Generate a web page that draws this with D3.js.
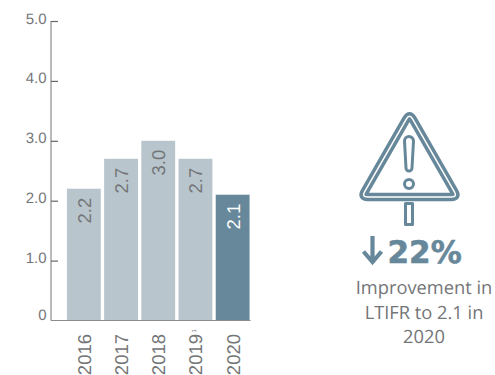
<!DOCTYPE html>
<html><head><meta charset="utf-8">
<script src="https://cdn.jsdelivr.net/npm/d3@7"></script>
<style>html,body{margin:0;padding:0;background:#fff}svg{display:block}text{text-rendering:geometricPrecision}</style>
</head><body><svg width="495" height="375" font-family="'Liberation Sans',Arial,sans-serif"></svg>
<script>
const years = ["2016", "2017", "2018", "2019", "2020"];
const yearNotes = ["", "", "", "1", ""];
const ltifr = [2.2, 2.7, 3.0, 2.7, 2.1];
const yTicks = [0, 1, 2, 3, 4, 5];
const captionLines = ["Improvement in", "LTIFR to 2.1 in", "2020"];
const changeLabel = "22%";

const pale = "#b8c5cd", deep = "#67889a", grey = "#747577", axisGrey = "#8c8c8c";
const svg = d3.select("svg");

const y = d3.scaleLinear().domain([0, 5]).range([320.5, 21]);
const x = d3.scaleBand().domain(years).range([64.7, 251.8]).paddingInner(0.09).paddingOuter(0.06);

// Value axis: ticks point right, towards the bars
const yAxis = svg.append("g").attr("transform", "translate(51,0)")
  .call(d3.axisRight(y).tickValues(yTicks).tickSize(7).tickFormat(() => ""));
yAxis.select(".domain").attr("stroke", axisGrey).attr("stroke-width", 1.2).attr("d", "M0,21V320.5");
yAxis.selectAll(".tick line").attr("stroke", "#666").attr("stroke-width", 1.2);
yAxis.selectAll(".tick").filter(d => d === 0).select("line").remove();

svg.append("g").selectAll("text").data(yTicks).join("text")
  .attr("x", 46.5).attr("y", d => d === 0 ? y(d) - 0.5 : y(d) + 2.5).attr("text-anchor", "end")
  .attr("font-size", 15).attr("fill", grey)
  .text(d => d === 0 ? "0" : d.toFixed(1));

// Bars
svg.append("g").selectAll("rect").data(years).join("rect")
  .attr("x", d => x(d)).attr("width", x.bandwidth())
  .attr("y", (d, i) => y(ltifr[i])).attr("height", (d, i) => y(0) - y(ltifr[i]))
  .attr("fill", (d, i) => i === years.length - 1 ? deep : pale);

// Baseline drawn over the foot of the bars
svg.append("line").attr("x1", 51).attr("x2", 250.5).attr("y1", y(0)).attr("y2", y(0))
  .attr("stroke", axisGrey).attr("stroke-width", 1.2);

// Values rotated inside the top of each bar
svg.append("g").selectAll("text").data(years).join("text")
  .attr("transform", (d, i) => `translate(${x(d) + x.bandwidth() / 2 + 7},${y(ltifr[i]) + 9}) rotate(-90)`)
  .attr("text-anchor", "end").attr("font-size", 18.5)
  .attr("fill", (d, i) => i === years.length - 1 ? "#ffffff" : grey)
  .text((d, i) => ltifr[i].toFixed(1));

// Rotated year labels under the baseline, with an optional note marker
const yearLabels = svg.append("g").selectAll("text").data(years).join("text")
  .attr("transform", d => `translate(${x(d) + x.bandwidth() / 2 + 7},334) rotate(-90)`)
  .attr("text-anchor", "end").attr("font-size", 18.5).attr("fill", grey)
  .text(d => d);
yearLabels.filter((d, i) => yearNotes[i]).each(function(d) {
  const note = yearNotes[years.indexOf(d)];
  svg.append("text")
    .attr("transform", `translate(${x(d) + x.bandwidth() / 2 + 0.5},332.5) rotate(-90)`)
    .attr("font-size", 6).attr("fill", grey).text(note);
});

// Warning sign: rounded triangle as a heavy outline split by a thin white line
const triangle = "M406.45,118.8L364.55,191.8Q361.5,197 367.5,197H451.5Q457.5,197 454.45,191.8L412.55,118.8Q409.5,113.6 406.45,118.8Z";
const sign = svg.append("g").attr("fill", "none").attr("stroke-linejoin", "round").attr("stroke-linecap", "round");
sign.append("path").attr("d", triangle).attr("stroke", deep).attr("stroke-width", 8.5);
sign.append("path").attr("d", triangle).attr("stroke", "#fff").attr("stroke-width", 1.5);
sign.append("path").attr("d", "M404.5,141a4.5,4.5 0 0 1 9,0L412,168a3,3 0 0 1 -6,0Z").attr("stroke", deep).attr("stroke-width", 3);
sign.append("circle").attr("cx", 409).attr("cy", 184).attr("r", 4.5).attr("stroke", deep).attr("stroke-width", 3);
sign.append("rect").attr("x", 405.5).attr("y", 203.5).attr("width", 7).attr("height", 21).attr("stroke", deep).attr("stroke-width", 3);

// Downward arrow and headline figure
svg.append("path").attr("d", "M372.5,236V262M363.5,251.5L372.5,262L381.5,251.5")
  .attr("fill", "none").attr("stroke", deep).attr("stroke-width", 4.2);
svg.append("text").attr("x", 387.5).attr("y", 263)
  .attr("font-family", "DejaVu Sans").attr("font-weight", 700)
  .attr("font-size", 31).attr("fill", deep).attr("stroke", deep).attr("stroke-width", 0.6)
  .text(changeLabel);

// Caption
svg.append("g").selectAll("text").data(captionLines).join("text")
  .attr("x", 424).attr("y", (d, i) => 294 + i * 24.5)
  .attr("text-anchor", "middle").attr("font-size", 18.3).attr("fill", grey)
  .attr("font-family", '"Open Sans",sans-serif').text(d => d);
</script></body></html>
